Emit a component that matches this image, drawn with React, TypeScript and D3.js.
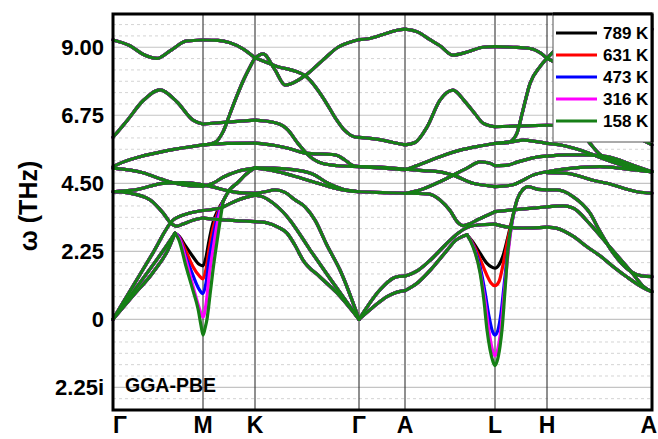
import React from "react";
import * as d3 from "d3";

type P = [number, number];

// high-symmetry path (k in path-distance units)
const kPoints = [0, 90, 142, 246, 292, 382, 434, 539];
const kLabels = ["Γ", "M", "K", "Γ", "A", "L", "H", "A"];
const yTicks = [-2.25, 0, 2.25, 4.5, 6.75, 9];
const yTickLabels = ["2.25i", "0", "2.25", "4.50", "6.75", "9.00"];
const temps = ["789 K", "631 K", "473 K", "316 K", "158 K"];
const colors = ["#000000", "#ff0000", "#0000ff", "#ff00ff", "#167f16"];

// frequencies (THz), imaginary shown as negative
const bandsGM: P[][] = [
  [[0, 9.24], [17, 9.05], [30, 8.77], [44, 8.63], [57, 8.88], [74, 9.21], [90, 9.24]],
  [[0, 6.02], [14, 6.57], [30, 7.23], [47, 7.59], [64, 7.19], [80, 6.59], [90, 6.46]],
  [[0, 5.05], [10, 5.2], [27, 5.38], [54, 5.58], [90, 5.77]],
  [[0, 5.0], [30, 4.85], [50, 4.62], [70, 4.45], [90, 4.4]],
  [[0, 4.22], [25, 4.3], [50, 4.5], [70, 4.52], [90, 4.45]],
  [[0, 4.22], [17, 4.17], [37, 3.95], [50, 3.52], [58, 3.18], [64, 3.08], [70, 3.15], [80, 3.28], [90, 3.35]],
  [[0, 0], [20, 1.1], [40, 2.2], [60, 3.28], [75, 3.5], [90, 3.6]],
  [[0, 0], [20, 0.9], [40, 1.8], [55, 2.5], [62, 2.85]],
  [[0, 0], [20, 0.78], [40, 1.55], [55, 2.3], [62, 2.85]],
];

const bandsMK: P[][] = [
  [[90, 9.24], [105, 9.23], [117, 9.15], [130, 8.95], [142, 8.65]],
  [[90, 5.77], [97, 5.8], [102, 5.85], [110, 6.2], [117, 6.8], [124, 7.4], [131, 7.95], [137, 8.35], [142, 8.65]],
  [[90, 6.46], [114, 6.52], [142, 6.59]],
  [[90, 5.77], [114, 5.82], [142, 5.83]],
  [[90, 4.4], [100, 4.5], [110, 4.7], [125, 4.9], [142, 5.0]],
  [[90, 4.45], [100, 4.38], [115, 4.25], [130, 4.18], [142, 4.17]],
  [[110, 3.9], [117, 4.3], [124, 4.5], [133, 4.8], [142, 5.02]],
  [[90, 3.6], [107, 3.68], [125, 3.95], [142, 4.11]],
  [[90, 3.35], [114, 3.28], [142, 3.23]],
];

const bandsKG: P[][] = [
  [[142, 8.65], [150, 8.78], [162, 8.25], [172, 7.75], [180, 7.82], [192, 8.06], [209, 8.55], [225, 9.0], [240, 9.2], [246, 9.25]],
  [[142, 8.65], [162, 8.39], [192, 8.06], [212, 7.23], [222, 6.68], [232, 6.24], [242, 6.03], [246, 6.02]],
  [[142, 6.59], [160, 6.52], [170, 6.4], [175, 6.26], [185, 5.82], [195, 5.44], [209, 5.16], [225, 5.08], [246, 5.05]],
  [[142, 5.83], [162, 5.75], [175, 5.66], [192, 5.5], [222, 5.44], [232, 5.27], [239, 5.1], [246, 5.05]],
  [[142, 5.02], [160, 5.0], [180, 4.95], [200, 4.8], [215, 4.5], [230, 4.3], [246, 4.22]],
  [[142, 5.0], [160, 4.92], [180, 4.75], [200, 4.55], [215, 4.4], [230, 4.28], [246, 4.22]],
  [[142, 4.17], [152, 4.22], [162, 4.28], [172, 4.2], [182, 3.95], [192, 3.72], [202, 3.28], [214, 2.45], [227, 1.63], [246, 0]],
  [[142, 4.11], [150, 4.05], [160, 3.85], [170, 3.55], [177, 3.28], [197, 2.3], [217, 1.35], [246, 0]],
  [[142, 3.23], [154, 3.19], [165, 3.05], [174, 2.85], [182, 2.45], [190, 1.96], [207, 1.4], [224, 0.87], [246, 0]],
];

const bandsGA: P[][] = [
  [[246, 9.25], [255, 9.28], [270, 9.42], [285, 9.57], [292, 9.6]],
  [[246, 6.02], [265, 5.95], [280, 5.85], [292, 5.77]],
  [[246, 5.05], [270, 5.0], [292, 4.95]],
  [[246, 5.05], [270, 5.03], [292, 4.97]],
  [[246, 4.22], [270, 4.19], [292, 4.17]],
  [[246, 0], [255, 0.45], [264, 0.86], [272, 1.15], [280, 1.36], [286, 1.42], [292, 1.43]],
  [[246, 0], [260, 0.4], [274, 0.75], [284, 0.9], [292, 0.95]],
];

const bandsAL: P[][] = [
  [[292, 9.6], [305, 9.5], [317, 9.25], [327, 9.05], [340, 8.74], [355, 8.85], [370, 9.0], [382, 9.02]],
  [[292, 5.77], [302, 5.85], [314, 6.36], [327, 7.25], [340, 7.58], [352, 7.2], [362, 6.8], [370, 6.49], [382, 6.37]],
  [[292, 4.95], [305, 5.1], [327, 5.38], [350, 5.62], [370, 5.75], [382, 5.82]],
  [[292, 4.97], [310, 4.92], [327, 4.88], [340, 4.77], [360, 4.5], [375, 4.42], [382, 4.39]],
  [[292, 4.17], [307, 4.28], [330, 4.6], [354, 5.0], [367, 5.21], [377, 5.16], [382, 5.08]],
  [[292, 4.17], [315, 4.15], [327, 3.95], [337, 3.6], [345, 3.2], [350, 3.1], [356, 3.15], [365, 3.3], [375, 3.45], [382, 3.56]],
  [[292, 1.43], [305, 1.62], [318, 1.98], [332, 2.45], [345, 2.85], [355, 3.05], [365, 3.12], [382, 3.15]],
  [[292, 0.95], [305, 1.22], [318, 1.65], [332, 2.2], [343, 2.62], [354, 2.8]],
];

const bandsLH: P[][] = [
  [[382, 9.02], [400, 9.0], [417, 8.96], [428, 8.8], [434, 8.63]],
  [[382, 5.82], [394, 5.84], [400, 5.95], [404, 6.16], [410, 6.92], [417, 7.8], [427, 8.36], [434, 8.63]],
  [[382, 6.37], [410, 6.4], [434, 6.42]],
  [[382, 5.82], [400, 5.88], [410, 5.93], [425, 5.87], [434, 5.82]],
  [[382, 4.39], [400, 4.45], [407, 4.55], [420, 4.77], [434, 4.88]],
  [[382, 5.08], [395, 5.1], [404, 5.2], [415, 5.3], [427, 5.38], [434, 5.4]],
  [[410, 4.3], [415, 4.39], [425, 4.3], [434, 4.28]],
  [[382, 3.56], [400, 3.62], [420, 3.68], [434, 3.72]],
  [[382, 3.15], [395, 3.05], [410, 3.02], [434, 3.05]],
];

const bandsHA: P[][] = [
  [[434, 8.63], [445, 8.45], [470, 7.7], [495, 6.8], [515, 6.2], [528, 5.95], [539, 5.77]],
  [[434, 8.63], [442, 8.9], [470, 9.3], [500, 9.5], [539, 9.6]],
  [[434, 6.42], [455, 6.4], [470, 6.1], [477, 5.82], [487, 5.45], [500, 5.27], [520, 5.0], [539, 4.88]],
  [[434, 5.82], [450, 5.75], [467, 5.6], [494, 5.27], [520, 5.0], [539, 4.88]],
  [[434, 5.4], [454, 5.44], [470, 5.44], [494, 5.38], [520, 5.1], [539, 4.88]],
  [[434, 4.88], [460, 5.0], [487, 5.05], [514, 4.97], [539, 4.88]],
  [[434, 4.85], [454, 4.83], [480, 4.6], [494, 4.5], [524, 4.22], [539, 4.17]],
  [[434, 4.28], [444, 4.28], [460, 4.06], [477, 3.51], [487, 2.9], [500, 2.2], [517, 1.6], [530, 1.43], [539, 1.41]],
  [[434, 3.72], [450, 3.75], [460, 3.68], [477, 3.15], [494, 2.5], [507, 2.0], [520, 1.5], [530, 1.1], [539, 0.91]],
  [[434, 3.05], [444, 3.01], [460, 2.75], [474, 2.4], [487, 2.1], [500, 1.75], [514, 1.4], [530, 1.05], [539, 0.91]],
];

// temperature-dependent soft mode near M (one array per temperature)
const softM789: P[] = [[62, 2.85], [66, 2.75], [73, 2.4], [80, 2.07], [86, 1.82], [90, 1.77], [93, 2.05], [96, 2.6], [100, 3.2], [105, 3.62], [110, 3.9]];
const softM631: P[] = [[62, 2.85], [66, 2.73], [73, 2.25], [80, 1.74], [86, 1.45], [90, 1.34], [93, 1.65], [96, 2.3], [100, 3.0], [105, 3.55], [110, 3.9]];
const softM473: P[] = [[62, 2.85], [66, 2.72], [73, 2.05], [80, 1.45], [86, 1.0], [90, 0.85], [93, 1.2], [96, 1.95], [100, 2.7], [105, 3.45], [110, 3.9]];
const softM316: P[] = [[62, 2.85], [66, 2.7], [73, 1.95], [80, 1.1], [86, 0.4], [90, 0.07], [93, 0.5], [96, 1.4], [100, 2.3], [105, 3.3], [110, 3.9]];
const softM158: P[] = [[62, 2.85], [66, 2.62], [73, 1.75], [80, 0.95], [85, 0.35], [88, -0.2], [90, -0.52], [92, -0.3], [94, 0.0], [97, 0.8], [100, 1.63], [105, 2.8], [110, 3.9]];

// temperature-dependent soft mode near L
const softL789: P[] = [[354, 2.8], [360, 2.55], [367, 2.19], [374, 1.85], [378, 1.74], [382, 1.69], [386, 1.8], [390, 2.1], [394, 2.6], [399, 3.3], [404, 3.95], [410, 4.3]];
const softL631: P[] = [[354, 2.8], [360, 2.5], [367, 2.0], [374, 1.45], [378, 1.2], [382, 1.11], [386, 1.25], [390, 1.8], [394, 2.5], [399, 3.25], [404, 3.95], [410, 4.3]];
const softL473: P[] = [[354, 2.8], [360, 2.45], [367, 1.75], [372, 0.9], [376, 0.1], [379, -0.35], [382, -0.52], [385, -0.35], [388, 0.2], [391, 1.1], [395, 2.3], [399, 3.2], [404, 3.95], [410, 4.3]];
const softL316: P[] = [[354, 2.8], [360, 2.42], [367, 1.6], [372, 0.6], [376, -0.4], [379, -0.95], [382, -1.21], [385, -0.95], [388, -0.3], [391, 0.8], [395, 2.15], [399, 3.2], [404, 3.95], [410, 4.3]];
const softL158: P[] = [[354, 2.8], [360, 2.4], [367, 1.55], [371, 0.6], [374, -0.35], [377, -1.0], [380, -1.4], [382, -1.53], [384, -1.4], [387, -0.9], [389, -0.35], [392, 0.95], [395, 2.3], [399, 3.25], [404, 3.95], [410, 4.3]];

const softM = [softM789, softM631, softM473, softM316, softM158];
const softL = [softL789, softL631, softL473, softL316, softL158];

const FONT = "'Liberation Sans', Arial, Helvetica, sans-serif";

export default function App() {
  const W = 658, H = 439;
  const left = 113, right = 652, top = 14, bottom = 410;
  const x = d3.scaleLinear().domain([0, 539]).range([left, right]);
  const y = d3.scaleLinear().domain([-3, 10.1]).range([bottom, top]);
  const line = d3.line<P>().x((d) => x(d[0])).y((d) => y(d[1])).curve(d3.curveMonotoneX);

  const minor: number[] = [];
  for (let i = 1; i <= 34; i++) {
    if ((i - 2) % 6 !== 0) minor.push(-3 + i * 0.375);
  }
  const common = [...bandsGM, ...bandsMK, ...bandsKG, ...bandsGA, ...bandsAL, ...bandsLH, ...bandsHA];

  const legX = 553, legY = top, legW = right - 553, legH = 128;
  const rowY = d3.scaleLinear().domain([0, 4]).range([33, 121]);

  return (
    <div style={{ position: "absolute", left: 0, top: 0 }}>
      <svg width={W} height={H} style={{ display: "block", background: "#fff" }} fontFamily={FONT}>
        <rect x={0} y={0} width={W} height={H} fill="#fff" />
        {minor.map((v, i) => (
          <line key={"mn" + i} x1={left} x2={right} y1={y(v)} y2={y(v)} stroke="#d4d4d4" strokeWidth={1} strokeDasharray="3,3" />
        ))}
        {yTicks.map((v, i) => (
          <line key={"mj" + i} x1={left} x2={right} y1={y(v)} y2={y(v)} stroke="#c4c4c4" strokeWidth={1.2} />
        ))}
        {kPoints.slice(1, -1).map((k, i) => (
          <line key={"kv" + i} x1={x(k)} x2={x(k)} y1={top} y2={bottom} stroke="#333" strokeWidth={1.1} />
        ))}
        {colors.map((c, ti) => (
          <g key={"t" + ti} fill="none" stroke={c} strokeWidth={3.2} strokeLinecap="round" strokeLinejoin="round">
            {common.map((b, bi) => (
              <path key={bi} d={line(b) || ""} />
            ))}
            <path d={line(softM[ti]) || ""} />
            <path d={line(softL[ti]) || ""} />
          </g>
        ))}
        <rect x={left} y={top} width={right - left} height={bottom - top} fill="none" stroke="#000" strokeWidth={3} />
        {yTicks.map((v, i) => (
          <text key={"yt" + i} x={104} y={y(v) + 8} textAnchor="end" fontSize={22} fontWeight="bold" fill="#000">
            {yTickLabels[i]}
          </text>
        ))}
        {kPoints.map((k, i) => (
          <text
            key={"kl" + i}
            x={i === 0 ? x(k) : i === kPoints.length - 1 ? x(k) + 5 : x(k)}
            y={433}
            textAnchor={i === 0 ? "start" : i === kPoints.length - 1 ? "end" : "middle"}
            fontSize={23}
            fontWeight="bold"
            fill="#000"
          >
            {kLabels[i]}
          </text>
        ))}
        <text transform={`translate(37,206) rotate(-90)`} textAnchor="middle" fontSize={25} fontWeight="bold" fill="#000">
          ω (THz)
        </text>
        <text x={125} y={392} fontSize={19.5} fontWeight="bold" fill="#000">GGA-PBE</text>
        <rect x={legX} y={legY} width={legW} height={legH} fill="#fff" stroke="#555" strokeWidth={1} />
        <line x1={right} x2={right} y1={top} y2={top + legH} stroke="#000" strokeWidth={3} />
        <line x1={legX} x2={right} y1={top} y2={top} stroke="#000" strokeWidth={3} />
        {temps.map((t, i) => (
          <g key={"lg" + i}>
            <line x1={556} x2={597} y1={rowY(i)} y2={rowY(i)} stroke={colors[i]} strokeWidth={3} />
            <text x={603} y={rowY(i) + 6} fontSize={17} fontWeight="bold" fill="#000">{t}</text>
          </g>
        ))}
      </svg>
    </div>
  );
}
